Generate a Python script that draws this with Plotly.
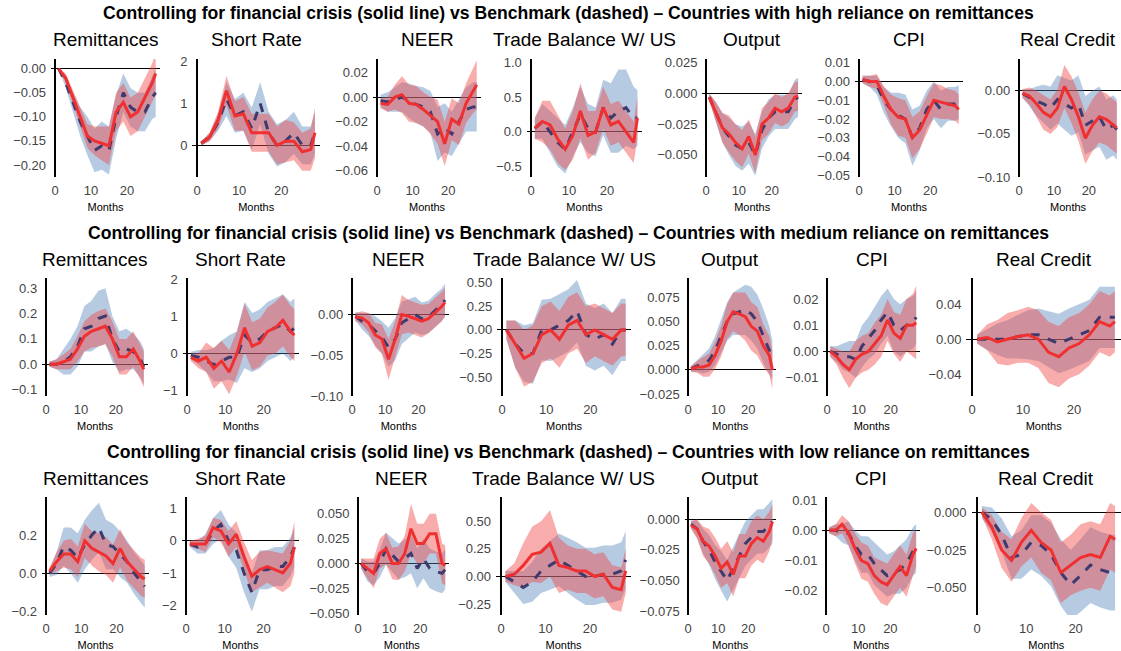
import plotly.graph_objects as go

months = [1, 3, 5, 7, 9, 11, 13, 15, 17, 19, 21, 23, 25, 27, 28]
variables = ["Remittances", "Short Rate", "NEER", "Trade Balance W/ US", "Output", "CPI", "Real Credit"]
row_titles = [
    "Controlling for financial crisis (solid line) vs Benchmark (dashed) \u2013 Countries with high reliance on remittances",
    "Controlling for financial crisis (solid line) vs Benchmark (dashed) \u2013 Countries with medium reliance on remittances",
    "Controlling for financial crisis (solid line) vs Benchmark (dashed) \u2013 Countries with low reliance on remittances",
]

# ---------- high reliance ----------
high_ctrl = {
    "Remittances": [0, -0.02, -0.06, -0.10, -0.14, -0.15, -0.155, -0.16, -0.09, -0.07, -0.10, -0.09, -0.06, -0.03, -0.01],
    "Short Rate": [0.05, 0.2, 0.6, 1.3, 0.7, 0.75, 0.3, 0.3, 0.3, 0.0, 0.1, 0.1, -0.15, -0.1, 0.3],
    "NEER": [-0.005, -0.006, 0.0, 0.002, -0.005, -0.006, -0.01, -0.015, -0.02, -0.038, -0.018, -0.022, -0.005, 0.005, 0.01],
    "Trade Balance W/ US": [0.05, 0.15, 0.1, -0.1, -0.25, -0.05, 0.3, -0.05, 0.0, 0.35, 0.1, 0.15, 0.0, -0.15, 0.2],
    "Output": [-0.003, -0.015, -0.028, -0.033, -0.04, -0.045, -0.035, -0.05, -0.025, -0.02, -0.012, -0.015, -0.012, -0.003, -0.002],
    "CPI": [0.001, 0.0, 0.0, -0.008, -0.015, -0.019, -0.02, -0.03, -0.026, -0.018, -0.01, -0.011, -0.012, -0.013, -0.015],
    "Real Credit": [-0.003, -0.006, -0.015, -0.025, -0.03, -0.02, 0.005, -0.01, -0.03, -0.055, -0.04, -0.03, -0.033, -0.04, -0.043],
}
high_bench = {
    "Remittances": [0, -0.03, -0.07, -0.11, -0.14, -0.17, -0.16, -0.17, -0.10, -0.05, -0.08, -0.09, -0.09, -0.06, -0.05],
    "Short Rate": [0.05, 0.2, 0.55, 1.1, 0.7, 0.8, 0.4, 1.0, 0.3, 0.0, 0.1, 0.3, 0.0, 0.0, 0.3],
    "NEER": [-0.003, -0.004, -0.002, 0.0, -0.003, -0.006, -0.008, -0.012, -0.03, -0.025, -0.03, -0.02, -0.01, -0.008, -0.008],
    "Trade Balance W/ US": [0.05, 0.15, 0.0, -0.15, -0.25, 0.0, 0.25, 0.05, 0.0, 0.35, 0.2, 0.3, 0.35, 0.2, 0.2],
    "Output": [-0.003, -0.015, -0.028, -0.035, -0.042, -0.045, -0.04, -0.05, -0.03, -0.02, -0.015, -0.015, -0.015, -0.005, -0.003],
    "CPI": [0.001, 0.0, -0.002, -0.01, -0.015, -0.018, -0.02, -0.03, -0.025, -0.015, -0.01, -0.015, -0.012, -0.012, -0.011],
    "Real Credit": [-0.003, -0.008, -0.012, -0.015, -0.02, -0.01, -0.015, -0.02, -0.015, -0.04, -0.035, -0.03, -0.045, -0.04, -0.045],
}
high_ctrl_w = {
    "Remittances": [0, 0.01, 0.015, 0.02, 0.025, 0.03, 0.035, 0.04, 0.04, 0.04, 0.04, 0.04, 0.04, 0.04, 0.045],
    "Short Rate": [0.05, 0.1, 0.2, 0.35, 0.35, 0.4, 0.45, 0.45, 0.45, 0.45, 0.5, 0.45, 0.45, 0.5, 0.6],
    "NEER": [0.004, 0.006, 0.01, 0.015, 0.015, 0.015, 0.014, 0.015, 0.018, 0.018, 0.017, 0.017, 0.016, 0.018, 0.02],
    "Trade Balance W/ US": [0.15, 0.3, 0.35, 0.35, 0.3, 0.35, 0.4, 0.35, 0.3, 0.3, 0.3, 0.3, 0.3, 0.3, 0.3],
    "Output": [0.003, 0.008, 0.012, 0.015, 0.015, 0.015, 0.014, 0.015, 0.013, 0.013, 0.012, 0.012, 0.012, 0.012, 0.012],
    "CPI": [0.002, 0.003, 0.004, 0.005, 0.008, 0.01, 0.01, 0.011, 0.01, 0.01, 0.009, 0.009, 0.008, 0.008, 0.008],
    "Real Credit": [0.005, 0.01, 0.015, 0.02, 0.02, 0.022, 0.025, 0.027, 0.028, 0.03, 0.03, 0.03, 0.03, 0.03, 0.03],
}
high_bench_w = {
    "Remittances": [0, 0.01, 0.02, 0.03, 0.04, 0.045, 0.05, 0.05, 0.045, 0.04, 0.04, 0.04, 0.04, 0.045, 0.05],
    "Short Rate": [0.05, 0.1, 0.2, 0.4, 0.4, 0.45, 0.5, 0.5, 0.5, 0.5, 0.5, 0.5, 0.45, 0.45, 0.5],
    "NEER": [0.005, 0.008, 0.01, 0.012, 0.014, 0.015, 0.016, 0.017, 0.022, 0.02, 0.018, 0.018, 0.018, 0.02, 0.02],
    "Trade Balance W/ US": [0.15, 0.25, 0.3, 0.35, 0.35, 0.35, 0.4, 0.35, 0.35, 0.4, 0.5, 0.6, 0.55, 0.45, 0.4],
    "Output": [0.003, 0.008, 0.012, 0.015, 0.017, 0.018, 0.017, 0.017, 0.015, 0.015, 0.014, 0.014, 0.014, 0.016, 0.016],
    "CPI": [0.002, 0.003, 0.005, 0.007, 0.009, 0.012, 0.013, 0.015, 0.012, 0.01, 0.01, 0.01, 0.009, 0.009, 0.009],
    "Real Credit": [0.005, 0.01, 0.017, 0.022, 0.025, 0.028, 0.03, 0.032, 0.033, 0.034, 0.035, 0.035, 0.035, 0.035, 0.035],
}

# ---------- medium reliance ----------
med_ctrl = {
    "Remittances": [0, 0, 0.01, 0.02, 0.06, 0.11, 0.13, 0.14, 0.15, 0.1, 0.03, 0.03, 0.06, 0.01, -0.02],
    "Short Rate": [-0.1, -0.2, -0.1, -0.4, -0.2, -0.5, 0.0, 0.7, 0.2, 0.3, 0.6, 0.7, 0.9, 0.6, 0.5],
    "NEER": [-0.003, -0.004, -0.01, -0.025, -0.03, -0.055, -0.03, 0.0, -0.002, -0.005, -0.008, -0.005, 0.002, 0.01, 0.015],
    "Trade Balance W/ US": [0, -0.15, -0.3, -0.25, -0.05, 0.0, -0.1, 0.05, 0.1, -0.05, 0.0, -0.05, -0.1, 0.0, 0.0],
    "Output": [0.001, 0.003, 0.003, 0.005, 0.015, 0.03, 0.05, 0.06, 0.058, 0.055, 0.045, 0.04, 0.025, 0.015, 0.0],
    "CPI": [0, -0.002, -0.005, -0.007, -0.003, -0.001, 0.0, 0.003, 0.006, 0.012, 0.007, 0.005, 0.01, 0.01, 0.011],
    "Real Credit": [0.0, 0.002, -0.003, 0.0, 0.003, 0.005, 0.0, -0.015, -0.02, -0.01, -0.005, 0.005, 0.02, 0.015, 0.02],
}
med_bench = {
    "Remittances": [0, 0, 0.01, 0.03, 0.07, 0.14, 0.15, 0.18, 0.19, 0.1, 0.05, 0.06, 0.05, 0.02, -0.01],
    "Short Rate": [-0.05, -0.1, -0.2, -0.3, -0.2, -0.1, -0.1, 0.5, 0.3, 0.4, 0.6, 0.7, 0.8, 0.6, 0.7],
    "NEER": [-0.002, -0.008, -0.012, -0.02, -0.028, -0.04, -0.03, -0.01, -0.005, 0.0, -0.005, -0.003, 0.005, 0.012, 0.018],
    "Trade Balance W/ US": [0, -0.15, -0.25, -0.25, 0.0, 0.0, 0.05, 0.1, 0.2, -0.05, -0.1, -0.05, -0.15, 0.0, 0.0],
    "Output": [0.001, 0.004, 0.006, 0.01, 0.02, 0.035, 0.05, 0.058, 0.06, 0.062, 0.058, 0.05, 0.035, 0.02, 0.01],
    "CPI": [0, -0.001, -0.002, -0.002, -0.003, 0.002, 0.005, 0.008, 0.012, 0.015, 0.01, 0.008, 0.01, 0.011, 0.013],
    "Real Credit": [0.0, 0.0, 0.0, 0.0, 0.003, 0.005, 0.005, 0.0, -0.005, 0.0, 0.005, 0.01, 0.025, 0.025, 0.025],
}
med_ctrl_w = {
    "Remittances": [0.01, 0.02, 0.03, 0.04, 0.05, 0.06, 0.065, 0.07, 0.07, 0.07, 0.07, 0.07, 0.07, 0.07, 0.07],
    "Short Rate": [0.1, 0.2, 0.4, 0.55, 0.55, 0.6, 0.6, 0.65, 0.65, 0.65, 0.65, 0.7, 0.7, 0.7, 0.7],
    "NEER": [0.005, 0.008, 0.012, 0.015, 0.018, 0.025, 0.022, 0.024, 0.02, 0.02, 0.02, 0.018, 0.018, 0.018, 0.018],
    "Trade Balance W/ US": [0.1, 0.25, 0.3, 0.3, 0.3, 0.3, 0.3, 0.3, 0.3, 0.3, 0.28, 0.28, 0.28, 0.28, 0.28],
    "Output": [0.003, 0.006, 0.01, 0.012, 0.014, 0.016, 0.018, 0.02, 0.022, 0.025, 0.025, 0.025, 0.022, 0.02, 0.02],
    "CPI": [0.002, 0.003, 0.005, 0.007, 0.007, 0.007, 0.007, 0.008, 0.008, 0.008, 0.008, 0.009, 0.01, 0.012, 0.014],
    "Real Credit": [0.005, 0.015, 0.025, 0.03, 0.03, 0.032, 0.033, 0.035, 0.035, 0.035, 0.035, 0.035, 0.035, 0.035, 0.035],
}
med_bench_w = {
    "Remittances": [0.01, 0.02, 0.05, 0.07, 0.08, 0.09, 0.1, 0.11, 0.11, 0.09, 0.08, 0.08, 0.07, 0.07, 0.07],
    "Short Rate": [0.1, 0.2, 0.3, 0.45, 0.55, 0.6, 0.7, 0.9, 0.8, 0.8, 0.8, 0.8, 0.8, 0.8, 0.8],
    "NEER": [0.005, 0.01, 0.014, 0.018, 0.02, 0.024, 0.026, 0.026, 0.024, 0.022, 0.02, 0.02, 0.02, 0.02, 0.02],
    "Trade Balance W/ US": [0.1, 0.25, 0.3, 0.32, 0.32, 0.33, 0.33, 0.33, 0.33, 0.33, 0.33, 0.33, 0.33, 0.33, 0.33],
    "Output": [0.003, 0.006, 0.01, 0.012, 0.015, 0.018, 0.02, 0.022, 0.024, 0.026, 0.028, 0.028, 0.028, 0.025, 0.02],
    "CPI": [0.002, 0.003, 0.005, 0.006, 0.007, 0.008, 0.008, 0.009, 0.009, 0.009, 0.01, 0.01, 0.01, 0.01, 0.01],
    "Real Credit": [0.005, 0.012, 0.018, 0.022, 0.025, 0.028, 0.03, 0.032, 0.034, 0.035, 0.035, 0.035, 0.035, 0.035, 0.035],
}

# ---------- low reliance ----------
low_ctrl = {
    "Remittances": [0.01, 0.06, 0.1, 0.1, 0.06, 0.17, 0.13, 0.11, 0.09, 0.05, 0.13, 0.06, 0.02, -0.02, -0.03],
    "Short Rate": [-0.1, -0.1, -0.1, 0.4, 0.3, -0.1, 0.2, -0.5, -1.1, -0.9, -0.8, -0.9, -1.0, -0.7, -0.2],
    "NEER": [0, -0.005, -0.01, 0.01, 0.015, 0.0, 0.0, 0.01, 0.035, 0.02, 0.02, 0.03, 0.03, 0.0, -0.002],
    "Trade Balance W/ US": [0.0, 0.02, 0.1, 0.2, 0.22, 0.3, 0.1, 0.08, 0.05, 0.05, 0.0, 0.02, -0.1, -0.12, 0.05],
    "Output": [-0.005, -0.008, -0.018, -0.022, -0.03, -0.04, -0.035, -0.045, -0.03, -0.03, -0.02, -0.015, -0.018, -0.01, -0.002],
    "CPI": [0, 0.0, 0.002, -0.001, -0.006, -0.01, -0.011, -0.015, -0.017, -0.018, -0.015, -0.012, -0.015, -0.008, -0.006],
    "Real Credit": [0, -0.01, -0.025, -0.032, -0.02, -0.012, -0.02, -0.025, -0.04, -0.035, -0.03, -0.028, -0.03, -0.016, -0.018],
}
low_bench = {
    "Remittances": [0.0, 0.05, 0.14, 0.12, 0.08, 0.15, 0.2, 0.24, 0.15, 0.14, 0.1, 0.06, 0.0, -0.05, -0.07],
    "Short Rate": [-0.1, -0.2, -0.1, 0.3, 0.5, 0.0, -0.3, -1.0, -1.6, -0.9, -0.9, -0.8, -0.8, -0.5, -0.2],
    "NEER": [0, -0.008, -0.01, 0.0, 0.015, 0.008, 0.002, 0.005, 0.01, -0.005, 0.005, -0.005, -0.008, -0.01, -0.006],
    "Trade Balance W/ US": [0.0, -0.05, -0.1, -0.05, 0.05, 0.1, 0.15, 0.1, 0.05, 0.0, 0.0, 0.02, 0.02, 0.05, 0.15],
    "Output": [-0.004, -0.008, -0.018, -0.025, -0.035, -0.042, -0.05, -0.04, -0.03, -0.02, -0.015, -0.01, -0.01, -0.005, -0.002],
    "CPI": [0, 0.0, -0.001, -0.001, -0.005, -0.008, -0.008, -0.011, -0.013, -0.015, -0.014, -0.013, -0.011, -0.007, -0.006],
    "Real Credit": [0, -0.005, -0.015, -0.03, -0.028, -0.02, -0.022, -0.028, -0.04, -0.048, -0.042, -0.035, -0.038, -0.04, -0.04],
}
low_ctrl_w = {
    "Remittances": [0.02, 0.05, 0.07, 0.08, 0.08, 0.09, 0.09, 0.1, 0.1, 0.1, 0.1, 0.1, 0.1, 0.1, 0.1],
    "Short Rate": [0.1, 0.15, 0.25, 0.3, 0.35, 0.4, 0.4, 0.45, 0.5, 0.55, 0.5, 0.55, 0.6, 0.7, 0.8],
    "NEER": [0.005, 0.01, 0.015, 0.015, 0.016, 0.016, 0.017, 0.018, 0.025, 0.02, 0.02, 0.02, 0.02, 0.02, 0.02],
    "Trade Balance W/ US": [0.05, 0.1, 0.2, 0.25, 0.28, 0.3, 0.25, 0.2, 0.2, 0.2, 0.2, 0.2, 0.2, 0.2, 0.2],
    "Output": [0.003, 0.008, 0.012, 0.014, 0.015, 0.016, 0.017, 0.018, 0.018, 0.018, 0.018, 0.018, 0.018, 0.016, 0.014],
    "CPI": [0.001, 0.002, 0.003, 0.004, 0.005, 0.006, 0.006, 0.006, 0.007, 0.007, 0.007, 0.007, 0.007, 0.007, 0.006],
    "Real Credit": [0.003, 0.008, 0.012, 0.014, 0.016, 0.018, 0.02, 0.02, 0.02, 0.02, 0.022, 0.022, 0.022, 0.022, 0.022],
}
low_bench_w = {
    "Remittances": [0.02, 0.06, 0.1, 0.12, 0.13, 0.13, 0.13, 0.13, 0.13, 0.12, 0.12, 0.11, 0.11, 0.11, 0.11],
    "Short Rate": [0.1, 0.2, 0.3, 0.4, 0.45, 0.5, 0.55, 0.6, 0.6, 0.6, 0.6, 0.6, 0.6, 0.6, 0.6],
    "NEER": [0.005, 0.01, 0.012, 0.014, 0.016, 0.017, 0.018, 0.019, 0.02, 0.02, 0.02, 0.02, 0.02, 0.02, 0.02],
    "Trade Balance W/ US": [0.05, 0.1, 0.15, 0.18, 0.2, 0.22, 0.24, 0.25, 0.26, 0.26, 0.26, 0.26, 0.26, 0.26, 0.26],
    "Output": [0.003, 0.007, 0.01, 0.012, 0.014, 0.016, 0.017, 0.018, 0.018, 0.018, 0.018, 0.018, 0.018, 0.018, 0.018],
    "CPI": [0.001, 0.002, 0.003, 0.004, 0.005, 0.006, 0.006, 0.007, 0.007, 0.007, 0.007, 0.008, 0.008, 0.008, 0.008],
    "Real Credit": [0.004, 0.008, 0.011, 0.014, 0.016, 0.018, 0.02, 0.021, 0.022, 0.023, 0.024, 0.025, 0.025, 0.025, 0.025],
}

y_ranges = [
    [[-0.225, 0.02], [-0.75, 2.05], [-0.065, 0.031], [-0.65, 1.05], [-0.068, 0.028], [-0.051, 0.012], [-0.1, 0.037]],
    [[-0.125, 0.34], [-1.15, 2.05], [-0.1, 0.045], [-0.7, 0.55], [-0.027, 0.095], [-0.017, 0.028], [-0.065, 0.07]],
    [[-0.22, 0.4], [-2.3, 1.35], [-0.052, 0.067], [-0.35, 0.72], [-0.078, 0.018], [-0.028, 0.011], [-0.068, 0.01]],
]
y_ticks = [
    [[0, -0.05, -0.1, -0.15, -0.2], [0, 1, 2], [0.02, 0, -0.02, -0.04, -0.06], [1.0, 0.5, 0, -0.5],
     [0.025, 0, -0.025, -0.05], [0.01, 0, -0.01, -0.02, -0.03, -0.04, -0.05], [0, -0.05, -0.1]],
    [[-0.1, 0, 0.1, 0.2, 0.3], [-1, 0, 1, 2], [0, -0.05, -0.1], [0.5, 0.25, 0, -0.25, -0.5],
     [0.075, 0.05, 0.025, 0, -0.025], [0.02, 0.01, 0, -0.01], [0.04, 0, -0.04]],
    [[0.2, 0, -0.2], [1, 0, -1, -2], [0.05, 0.025, 0, -0.025, -0.05], [0.5, 0.25, 0, -0.25],
     [0, -0.025, -0.05, -0.075], [0.01, 0, -0.01, -0.02], [0, -0.025, -0.05]],
]
tick_fmt = [
    [".2f", "d", ".2f", ".1f", ".3f", ".2f", ".2f"],
    [".1f", "d", ".2f", ".2f", ".3f", ".2f", ".2f"],
    [".1f", "d", ".3f", ".2f", ".3f", ".2f", ".3f"],
]

W, H = 1121, 651
# (axis-line x, right end x) per row and column, in reference pixels
col_px = [
    [(55, 160), (197, 320), (377, 481), (531, 642), (706, 802), (859, 963), (1019, 1121)],
    [(46, 148), (187, 299), (352, 449), (502, 631), (688, 776), (827, 920), (972, 1121)],
    [(46, 149), (186, 299), (358, 449), (501, 631), (688, 776), (826, 920), (977, 1121)],
]
row_px = [(59, 177), (278, 396), (497, 615)]
title_px = [13, 233, 452]
sub_px = [40, 259, 478]
XMIN, XMAX = -1.1, 29.2

rows = [(high_ctrl, high_bench, high_ctrl_w, high_bench_w),
        (med_ctrl, med_bench, med_ctrl_w, med_bench_w),
        (low_ctrl, low_bench, low_ctrl_w, low_bench_w)]

def fx(px):
    return px / W

def fy(py):
    return 1 - py / H

fig = go.Figure()
ann = []
k = 0
for r, (ctrl, bench, cw, bw) in enumerate(rows):
    ann.append(dict(text="<b>" + row_titles[r] + "</b>", x=fx(568), y=fy(title_px[r]), xref="paper", yref="paper",
                    showarrow=False, font=dict(size=17.6, color="black"), xanchor="center", yanchor="middle"))
    for c, v in enumerate(variables):
        k += 1
        xs = "x" if k == 1 else f"x{k}"
        ys = "y" if k == 1 else f"y{k}"
        for vals, w, col in [(bench[v], bw[v], "rgba(80,130,185,0.42)"), (ctrl[v], cw[v], "rgba(240,70,70,0.45)")]:
            up = [a + b for a, b in zip(vals, w)]
            lo = [a - b for a, b in zip(vals, w)]
            fig.add_trace(go.Scatter(x=months + months[::-1], y=up + lo[::-1], fill="toself", fillcolor=col,
                                     line=dict(width=0), mode="lines", xaxis=xs, yaxis=ys, showlegend=False,
                                     hoverinfo="skip"))
        fig.add_trace(go.Scatter(x=months, y=bench[v], mode="lines", line=dict(color="#3d3a6e", width=3, dash="dash"),
                                 xaxis=xs, yaxis=ys, showlegend=False))
        fig.add_trace(go.Scatter(x=months, y=ctrl[v], mode="lines", line=dict(color="#f03030", width=3),
                                 xaxis=xs, yaxis=ys, showlegend=False))
        line_x, right_x = col_px[r][c]
        scale = (right_x - line_x) / XMAX
        left_x = line_x + XMIN * scale
        y0, y1 = row_px[r]
        ax = dict(domain=[fx(left_x), min(fx(right_x), 1)], anchor=ys, range=[XMIN, XMAX], tickvals=[0, 10, 20],
                  showgrid=False, zeroline=True, zerolinecolor="black", zerolinewidth=1.5, showline=False, ticks="",
                  tickfont=dict(size=13, color="#444"), ticklabelstandoff=4, automargin=False,
                  title=dict(text="Months", font=dict(size=11, color="black"), standoff=6))
        ay = dict(domain=[fy(y1), fy(y0)], anchor=xs, range=y_ranges[r][c], tickvals=y_ticks[r][c],
                  tickformat=tick_fmt[r][c], showgrid=False, zeroline=True, zerolinecolor="black", zerolinewidth=1.3,
                  showline=False, ticks="", tickfont=dict(size=13, color="#444"), ticklabelstandoff=4,
                  automargin=False)
        fig.layout["xaxis" if k == 1 else f"xaxis{k}"] = ax
        fig.layout["yaxis" if k == 1 else f"yaxis{k}"] = ay
        ann.append(dict(text=v, x=fx((left_x + right_x) / 2), y=fy(sub_px[r]), xref="paper", yref="paper",
                        showarrow=False, font=dict(size=19, color="black"), xanchor="center", yanchor="middle"))

fig.update_layout(width=W, height=H, margin=dict(l=0, r=0, t=0, b=0, autoexpand=False), plot_bgcolor="white",
                  paper_bgcolor="white", font=dict(family="Liberation Sans, Arial, sans-serif"), annotations=ann)
fig.write_html("out.html", config={"displayModeBar": False},
               post_script="document.body.style.margin='0';document.body.style.overflow='hidden';")
